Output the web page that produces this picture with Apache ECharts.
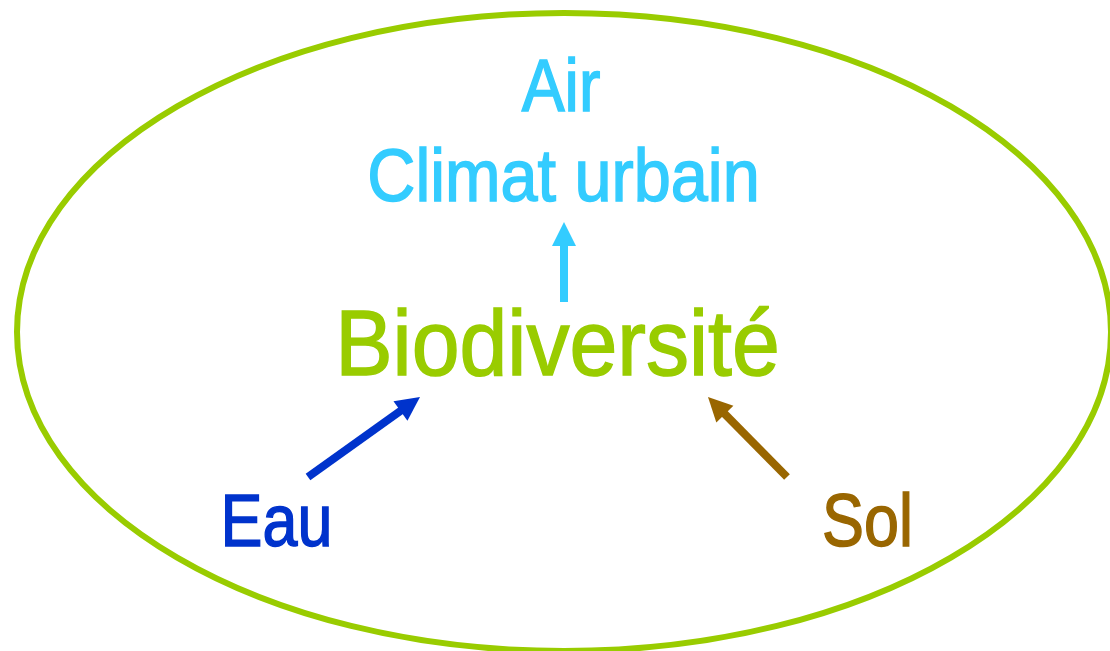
<!DOCTYPE html>
<html><head><meta charset="utf-8">
<script src="https://cdn.jsdelivr.net/npm/echarts@6/dist/echarts.min.js"></script>
<style>html,body{margin:0;padding:0;background:#fff}#c{width:1110px;height:651px}</style>
</head><body><div id="c"></div>
<script>
// Diagram content (node labels and their positions in diagram units)
const labels = ['Air', 'Climat urbain', 'Biodiversité', 'Eau', 'Sol'];
const labelX = [561, 563.5, 557.5, 276.5, 867.5];
const labelY = [85.5, 175, 342.5, 520, 520];

// Arrows: tail -> tip
const arrowFrom = [[564, 302], [308, 477], [787, 477]];
const arrowTo = [[564, 222], [420, 397], [708, 397]];

// Enclosing ellipse: centre and radii
const ellipseCenter = [564, 332];
const ellipseRadius = [547, 319];

// Styles (kept separate from the data)
const COLORS = {Air: '#33ccff', 'Climat urbain': '#33ccff', 'Biodiversité': '#99cc00', Eau: '#0033cc', Sol: '#996600'};
const ARROW_COLORS = ['#33ccff', '#0033cc', '#996600'];
const FONT = '"Liberation Sans", Arial, sans-serif';
const SIZES = {Air: 74, 'Climat urbain': 74, 'Biodiversité': 93, Eau: 74, Sol: 74};
const SCALE_X = {Air: 0.87, 'Climat urbain': 0.9, 'Biodiversité': 0.925, Eau: 0.85, Sol: 0.85};
const CAP_SHIFT = 0.075; // middle of em box vs. middle of capitals

const chart = echarts.init(document.getElementById('c'), null, {renderer: 'canvas'});
chart.setOption({
  animation: false,
  backgroundColor: '#fff',
  grid: {left: 0, right: 0, top: 0, bottom: 0},
  xAxis: {type: 'value', min: 0, max: 1110, show: false},
  yAxis: {type: 'value', min: 0, max: 651, inverse: true, show: false},
  series: [
    {
      type: 'custom',
      coordinateSystem: 'cartesian2d',
      silent: true,
      data: [[ellipseCenter[0], ellipseCenter[1], ellipseRadius[0], ellipseRadius[1]]],
      renderItem: function (params, api) {
        const c = api.coord([api.value(0), api.value(1)]);
        const s = api.size([api.value(2), api.value(3)]);
        return {
          type: 'ellipse',
          shape: {cx: c[0], cy: c[1], rx: s[0], ry: s[1]},
          style: {fill: null, stroke: '#99cc00', lineWidth: 6}
        };
      }
    },
    {
      type: 'custom',
      coordinateSystem: 'cartesian2d',
      silent: true,
      data: arrowFrom.map((f, i) => [f[0], f[1], arrowTo[i][0], arrowTo[i][1]]),
      renderItem: function (params, api) {
        const a = api.coord([api.value(0), api.value(1)]);
        const b = api.coord([api.value(2), api.value(3)]);
        const dx = b[0] - a[0], dy = b[1] - a[1];
        const len = Math.sqrt(dx * dx + dy * dy);
        const ux = dx / len, uy = dy / len;
        const headLen = 24, headHalf = 12;
        const bx = b[0] - ux * headLen, by = b[1] - uy * headLen;
        const color = ARROW_COLORS[params.dataIndex];
        return {
          type: 'group',
          children: [
            {
              type: 'line',
              shape: {x1: a[0], y1: a[1], x2: bx + ux * 2, y2: by + uy * 2},
              style: {stroke: color, lineWidth: 8, lineCap: 'butt'}
            },
            {
              type: 'polygon',
              shape: {points: [[b[0], b[1]], [bx - uy * headHalf, by + ux * headHalf], [bx + uy * headHalf, by - ux * headHalf]]},
              style: {fill: color}
            }
          ]
        };
      }
    },
    {
      type: 'custom',
      coordinateSystem: 'cartesian2d',
      silent: true,
      data: labels.map((t, i) => [labelX[i], labelY[i]]),
      renderItem: function (params, api) {
        const t = labels[params.dataIndex];
        const p = api.coord([api.value(0), api.value(1)]);
        const fs = SIZES[t];
        return {
          type: 'text',
          x: p[0],
          y: p[1] + CAP_SHIFT * fs,
          scaleX: SCALE_X[t],
          style: {
            text: t,
            x: 0, y: 0,
            fontSize: fs,
            fontFamily: FONT,
            fill: COLORS[t],
            stroke: COLORS[t],
            lineWidth: 1.5,
            align: 'center',
            verticalAlign: 'middle'
          }
        };
      }
    }
  ]
});
</script></body></html>
